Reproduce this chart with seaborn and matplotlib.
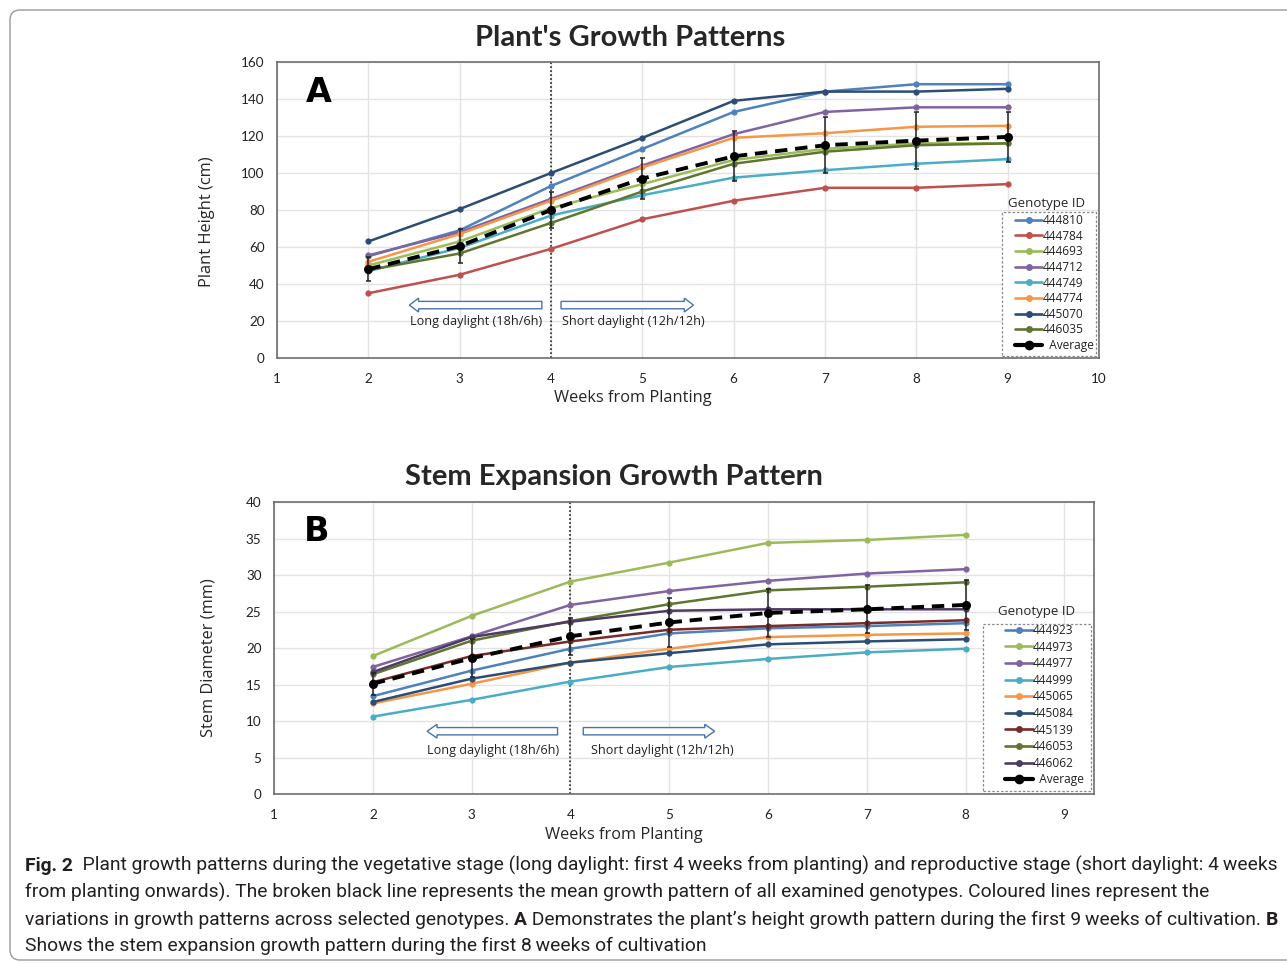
import numpy as np
import pandas as pd
import matplotlib
matplotlib.use("Agg")
import matplotlib.pyplot as plt
import seaborn as sns
from matplotlib.lines import Line2D
from matplotlib.patches import FancyArrow, FancyBboxPatch, Rectangle

# ---------------- data ----------------
weeks_a = [2, 3, 4, 5, 6, 7, 8, 9]
ids_a = ['444810', '444784', '444693', '444712', '444749', '444774', '445070', '446035']
h_444810 = [55, 69, 93, 113, 133, 144, 148, 148]
h_444784 = [35, 45, 59, 75, 85, 92, 92, 94]
h_444693 = [50, 63, 81, 94, 107, 113, 116, 116]
h_444712 = [55.5, 68, 86, 104, 121, 133, 135.5, 135.5]
h_444749 = [47, 59.5, 77, 88, 97.5, 101.5, 105, 107.5]
h_444774 = [52, 67, 85, 103, 119, 121.5, 125, 125.5]
h_445070 = [63, 80.5, 100, 119, 139, 144, 144, 145.5]
h_446035 = [47.5, 56.5, 73, 90, 105, 111.5, 115, 116]
h_avg = [48, 60.5, 80, 97, 109, 115, 117.5, 119.5]
h_sd = [6.5, 9, 9.5, 11, 13.5, 15, 15.5, 13.5]

weeks_b = [2, 3, 4, 5, 6, 7, 8]
ids_b = ['444923', '444973', '444977', '444999', '445065', '445084', '445139', '446053', '446062']
d_444923 = [13.4, 16.9, 19.9, 22.0, 22.7, 23.0, 23.4]
d_444973 = [18.9, 24.4, 29.1, 31.7, 34.4, 34.8, 35.5]
d_444977 = [17.4, 21.6, 25.9, 27.8, 29.2, 30.2, 30.8]
d_444999 = [10.6, 12.9, 15.4, 17.4, 18.5, 19.4, 19.9]
d_445065 = [12.4, 15.1, 18.0, 19.9, 21.5, 21.8, 22.0]
d_445084 = [12.6, 15.8, 18.0, 19.3, 20.5, 20.9, 21.2]
d_445139 = [15.3, 18.9, 20.9, 22.5, 23.0, 23.4, 23.8]
d_446053 = [16.4, 21.0, 23.7, 26.0, 27.9, 28.4, 29.0]
d_446062 = [16.7, 21.5, 23.6, 25.1, 25.3, 25.3, 25.3]
d_avg = [15.1, 18.6, 21.6, 23.5, 24.8, 25.3, 25.9]
d_sd = [1.5, 2.6, 2.5, 3.3, 3.3, 3.3, 3.4]

x_ticks_a = list(range(1, 11))
y_ticks_a = list(range(0, 161, 20))
x_ticks_b = list(range(1, 10))
y_ticks_b = list(range(0, 41, 5))

colors_a = ['#4F81BD', '#C0504D', '#9BBB59', '#8064A2', '#4BACC6', '#F79646', '#2C4D75', '#5F7530']
colors_b = ['#4F81BD', '#9BBB59', '#8064A2', '#4BACC6', '#F79646', '#2C4D75', '#772C2A', '#5F7530', '#4D3B62']

series_a = [h_444810, h_444784, h_444693, h_444712, h_444749, h_444774, h_445070, h_446035]
series_b = [d_444923, d_444973, d_444977, d_444999, d_445065, d_445084, d_445139, d_446053, d_446062]

# ---------------- figure ----------------
W, H = 1287, 963
sns.set_theme(style="white")
plt.rcParams['font.family'] = ['Lato', 'DejaVu Sans']
fig = plt.figure(figsize=(W / 100, H / 100), dpi=100)
fig.patch.set_facecolor('white')


def px_axes(left, top, right, bottom):
    return fig.add_axes([left / W, 1 - bottom / H, (right - left) / W, (bottom - top) / H])


def ftext(x, y, s, **kw):
    return fig.text(x / W, 1 - y / H, s, **kw)


def panel(ax, weeks, ids, series, colors, avg, sd, xlim, ylim, xticks, yticks,
          letter, letter_xy, arrows, texts, legend_anchor, labelspacing, legend_box):
    rows = []
    for gid, vals in zip(ids, series):
        for w, v in zip(weeks, vals):
            rows.append((gid, w, v))
    df = pd.DataFrame(rows, columns=['genotype', 'week', 'value'])
    pal = dict(zip(ids, colors))
    ax.grid(True, color='#E3E3E3', lw=1.0)
    ax.set_axisbelow(True)
    ax.axvline(4, color='#3a3a3a', ls=(0, (1, 1.2)), lw=1.3, zorder=1)
    sns.lineplot(data=df, x='week', y='value', hue='genotype', hue_order=ids, palette=pal,
                 marker='o', markersize=4.5, markeredgewidth=0, linewidth=1.8,
                 legend=False, ax=ax, zorder=3)
    ax.errorbar(weeks, avg, yerr=sd, fmt='none', ecolor='#222222', elinewidth=1.1,
                capsize=1.8, capthick=1.1, zorder=4)
    sns.lineplot(x=weeks, y=avg, color='black', linestyle=(0, (3.2, 2.0)), linewidth=2.8,
                 marker='o', markersize=6.5, markeredgewidth=0, ax=ax, zorder=5)
    ax.set_xlim(*xlim)
    ax.set_ylim(*ylim)
    ax.set_xticks(xticks)
    ax.set_yticks(yticks)
    ax.tick_params(axis='y', length=0, labelsize=9.7, colors='#222222', pad=9)
    ax.tick_params(axis='x', length=0, labelsize=9.7, colors='#222222', pad=10.5)
    ax.set_xlabel('')
    ax.set_ylabel('')
    for sp in ax.spines.values():
        sp.set_color('#6d6d6d')
        sp.set_linewidth(1.2)
    ax.text(letter_xy[0], letter_xy[1], letter, fontsize=24, fontweight='black',
            family='DejaVu Sans', ha='center', va='center', color='black', zorder=6)
    for (x0, x1, y, w, hw, hl) in arrows:
        ar = FancyArrow(x0, y, x1 - x0, 0, width=w, head_width=hw, head_length=hl,
                        length_includes_head=True, facecolor='white', edgecolor='#4A72B0',
                        lw=1.0, zorder=4)
        ax.add_patch(ar)
    for (x, y, s) in texts:
        ax.text(x, y, s, fontsize=9.1, ha='center', va='center', color='#222222',
                family=['Open Sans', 'DejaVu Sans'], zorder=6)
    # dashed legend box
    bx0, by0, bx1, by1 = legend_box
    ax.add_patch(Rectangle((bx0, by0), bx1 - bx0, by1 - by0, transform=ax.transAxes,
                           facecolor='white', edgecolor='#8a8a8a', lw=0.9,
                           ls=(0, (2, 1.5)), zorder=7, clip_on=False))
    handles = [Line2D([0], [0], color=c, marker='o', ms=5, mew=0, lw=1.9) for c in colors]
    handles.append(Line2D([0], [0], color='black', marker='o', ms=7, mew=0, lw=3))
    labels = list(ids) + ['  Average']
    leg = ax.legend(handles, labels, loc='upper left', bbox_to_anchor=legend_anchor,
                    frameon=False, handlelength=2.3, handletextpad=0.05,
                    labelspacing=labelspacing, borderpad=0.0, borderaxespad=0.0,
                    prop={'family': ['Open Sans', 'DejaVu Sans'], 'size': 8.6})
    leg.set_zorder(8)
    for t in leg.get_texts():
        t.set_color('#222222')
    return leg


# ---- panel A ----
axA = px_axes(277, 62, 1099, 358)
panel(axA, weeks_a, ids_a, series_a, colors_a, h_avg, h_sd, (1, 10), (0, 160),
      x_ticks_a, y_ticks_a, 'A', (1.46, 143.5),
      arrows=[(3.9, 2.45, 28.6, 4.0, 7.5, 0.1), (4.11, 5.56, 28.6, 4.0, 7.5, 0.1)],
      texts=[(3.18, 20, 'Long daylight (18h/6h)'), (4.9, 20, 'Short daylight (12h/12h)')],
      legend_anchor=(0.8978, 0.4865), labelspacing=0.22,
      legend_box=(0.8820, 0.0068, 0.9964, 0.4932))
ftext(630, 38, "Plant's Growth Patterns", fontsize=21, fontweight='bold', ha='center', va='center')
ftext(207, 222, 'Plant Height (cm)', fontsize=11.8, rotation=90, ha='center', va='center',
      family=['Open Sans', 'DejaVu Sans'])
ftext(633, 398, 'Weeks from Planting', fontsize=11.8, ha='center', va='center',
      family=['Open Sans', 'DejaVu Sans'])
ftext(1046, 203, 'Genotype ID', fontsize=9.5, ha='center', va='center',
      family=['Open Sans', 'DejaVu Sans'])

# ---- panel B ----
axB = px_axes(274, 502, 1094, 794)
panel(axB, weeks_b, ids_b, series_b, colors_b, d_avg, d_sd, (1, 9.3), (0, 40),
      x_ticks_b, y_ticks_b, 'B', (1.43, 36),
      arrows=[(3.87, 2.55, 8.6, 1.0, 1.9, 0.1), (4.13, 5.46, 8.6, 1.0, 1.9, 0.1)],
      texts=[(3.22, 5.9, 'Long daylight (18h/6h)'), (4.93, 5.9, 'Short daylight (12h/12h)')],
      legend_anchor=(0.8915, 0.582), labelspacing=0.30,
      legend_box=(0.8646, 0.0103, 0.9963, 0.5822))
ftext(614, 477, 'Stem Expansion Growth Pattern', fontsize=21, fontweight='bold', ha='center', va='center')
ftext(208, 658, 'Stem Diameter (mm)', fontsize=11.8, rotation=90, ha='center', va='center',
      family=['Open Sans', 'DejaVu Sans'])
ftext(624, 835, 'Weeks from Planting', fontsize=11.8, ha='center', va='center',
      family=['Open Sans', 'DejaVu Sans'])
ftext(1036, 612, 'Genotype ID', fontsize=9.5, ha='center', va='center',
      family=['Open Sans', 'DejaVu Sans'])

# ---- frame ----
frame = FancyBboxPatch((10, 3), 1300, 950, boxstyle='round,pad=0,rounding_size=10',
                       transform=None, facecolor='none', edgecolor='#9a9a9a', lw=1.0)
fig.patches.append(frame)

# ---- caption ----
renderer = fig.canvas.get_renderer()
cap_font = ['Roboto', 'DejaVu Sans']
cap_size = 13.9


def measure(s, weight):
    t1 = fig.text(0, 0, s + '|', fontsize=cap_size, fontweight=weight, family=cap_font)
    t2 = fig.text(0, 0, '|', fontsize=cap_size, fontweight=weight, family=cap_font)
    w = t1.get_window_extent(renderer).width - t2.get_window_extent(renderer).width
    t1.remove()
    t2.remove()
    return w


def cap_line(pieces, y):
    x = 25
    for s, wgt in pieces:
        ftext(x, y, s, fontsize=cap_size, fontweight=wgt, family=cap_font, va='baseline',
              ha='left', color='#231f20')
        x += measure(s, wgt)


cap_line([('Fig. 2', 'bold'), ('  Plant growth patterns during the vegetative stage (long daylight: first 4\u2009weeks from planting) and reproductive stage (short daylight: 4\u2009weeks', 'normal')], 871)
cap_line([('from planting onwards). The broken black line represents the mean growth pattern of all examined genotypes. Coloured lines represent the', 'normal')], 898)
cap_line([('variations in growth patterns across selected genotypes. ', 'normal'), ('A', 'bold'),
          (' Demonstrates the plant\u2019s height growth pattern during the first 9\u2009weeks of cultivation. ', 'normal'), ('B', 'bold')], 925)
cap_line([('Shows the stem expansion growth pattern during the first 8\u2009weeks of cultivation', 'normal')], 951)

fig.savefig('out.png', dpi=100, facecolor='white')
